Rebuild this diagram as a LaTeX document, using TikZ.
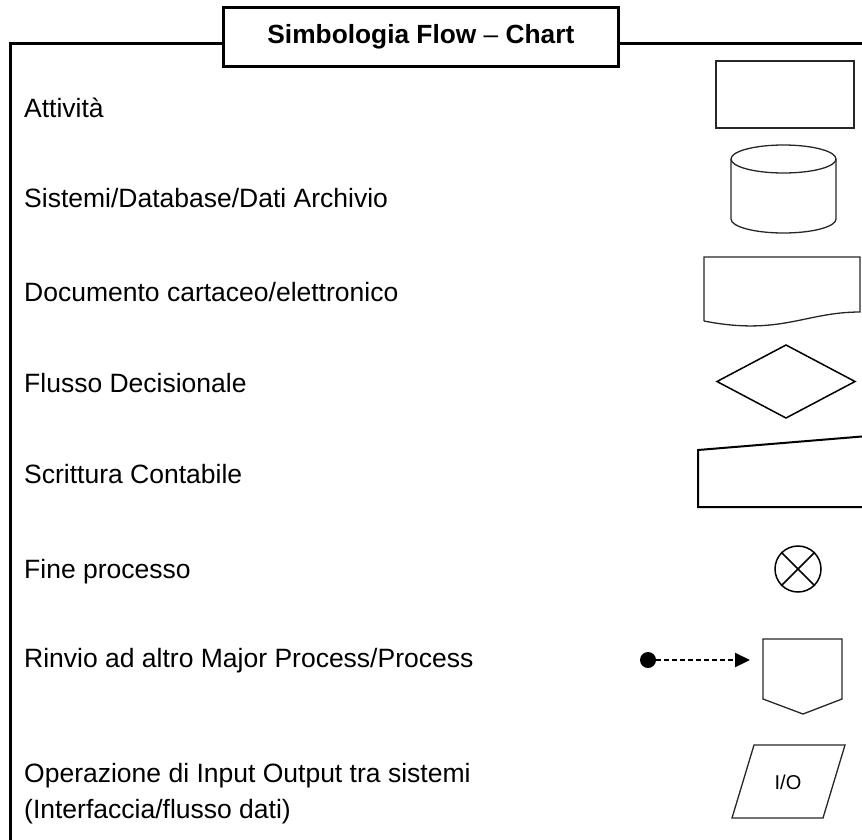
\documentclass[tikz,border=0pt]{standalone}
\usepackage{fontspec}
\setmainfont{Liberation Sans}
\usetikzlibrary{arrows.meta}
\begin{document}
\begin{tikzpicture}[x=1pt,y=-1pt,
  frame/.style={line width=3pt,black},
  symb/.style={line width=1.3pt,draw=black!85},
  lbl/.style={anchor=base west,inner sep=0pt,font=\fontsize{26.5}{30}\selectfont}]
\useasboundingbox (0,0) rectangle (862,839);
\clip (0,0) rectangle (862,839);
% frame
\node[draw,line width=2.8pt,minimum width=395pt,minimum height=59pt,inner sep=0pt,anchor=north west,font=\fontsize{26.3}{30}\selectfont] (title) at (222,6) {\textbf{Simbologia Flow} – \textbf{Chart}};
\coordinate (tl) at (10,43);
\coordinate (bl) at (10,845);
\coordinate (tr) at (866,43);
\draw[frame] (bl) -- (tl) -- (title.west |- tl);
\draw[frame] (title.east |- tr) -- (tr);
% labels
\node[lbl] (t1) at (24,117) {Attività};
\node[lbl] (t2) at (24,207) {Sistemi/Database/Dati Archivio};
\node[lbl] (t3) at (24,301) {Documento cartaceo/elettronico};
\node[lbl] (t4) at (24,392) {Flusso Decisionale};
\node[lbl] (t5) at (24,483) {Scrittura Contabile};
\node[lbl] (t6) at (24,578) {Fine processo};
\node[lbl] (t7) at (24,667) {Rinvio ad altro Major Process/Process};
\node[lbl] (t8) at (24,782) {Operazione di Input Output tra sistemi};
\node[lbl] (t9) at (24,818) {(Interfaccia/flusso dati)};
% activity
\draw[symb] (716,61) rectangle (854,128);
% cylinder
\draw[symb] (731,159) -- (731,219) arc[start angle=180,end angle=360,x radius=52.5,y radius=-14] -- (836,159);
\draw[symb] (783.5,159) ellipse[x radius=52.5,y radius=14];
% document
\draw[symb] (704,321) -- (704,257) -- (860,257) -- (860,312) .. controls (805,312) and (780,336) .. (704,321);
% decision
\draw[line width=1.5pt] (717,381.5) -- (786,345) -- (855,381.5) -- (786,418) -- cycle;
% manual input
\draw[line width=2pt] (698,507) -- (698,450) -- (880,435) -- (880,507) -- cycle;
% end process
\node[draw,circle,line width=1.5pt,minimum size=46pt,inner sep=0pt] (endp) at (798,569) {};
\draw[line width=1.5pt] (endp.north west) -- (endp.south east);
\draw[line width=1.5pt] (endp.north east) -- (endp.south west);
% off-page
\node[fill=black,circle,minimum size=16pt,inner sep=0pt] (dot) at (648,660) {};
\coordinate (tip) at (750,660);
\draw[line width=2.2pt,dash pattern=on 5pt off 3pt,-{Triangle[length=15pt,width=14pt]}] (dot.center) -- (tip);
\draw[symb] (763,639) -- (842,639) -- (842,699) -- (803,714) -- (763,699) -- cycle;
% I/O
\draw[symb] (754,745) -- (845,745) -- (823,818) -- (732,818) -- cycle;
\node[font=\fontsize{20}{22}\selectfont] (io) at (788,782) {I/O};
\end{tikzpicture}
\end{document}
